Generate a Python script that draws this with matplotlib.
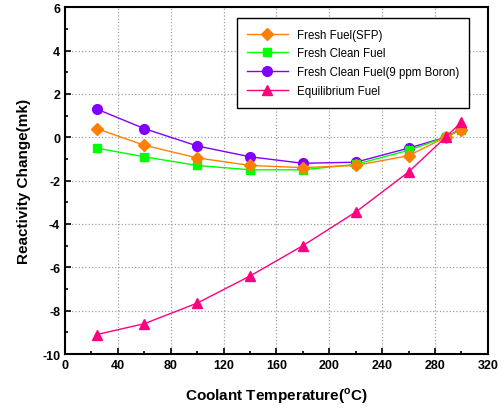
import matplotlib
matplotlib.use("Agg")
import matplotlib.pyplot as plt
from matplotlib.ticker import MultipleLocator

plt.rcParams['font.family'] = ['Liberation Sans', 'DejaVu Sans']
plt.rcParams['axes.unicode_minus'] = False

temp = [24, 60, 100, 140, 180, 220, 260, 288, 300]
sfp = [0.4, -0.37, -0.95, -1.3, -1.4, -1.3, -0.85, 0.0, 0.35]
clean = [-0.5, -0.9, -1.3, -1.5, -1.5, -1.25, -0.6, 0.0, 0.35]
boron = [1.3, 0.4, -0.4, -0.9, -1.2, -1.15, -0.5, 0.0, 0.4]
equil = [-9.1, -8.6, -7.65, -6.4, -5.0, -3.45, -1.6, 0.0, 0.7]

fig = plt.figure(figsize=(5.04, 4.10), dpi=100)
ax = fig.add_axes([0.129, 0.134, 0.839, 0.846])

ax.plot(temp, sfp, color='#FF8000', marker='D', ms=6, lw=1, label='Fresh Fuel(SFP)', zorder=4)
ax.plot(temp, clean, color='#00FF00', marker='s', ms=6, lw=1, label='Fresh Clean Fuel', zorder=3)
ax.plot(temp, boron, color='#8000FF', marker='o', ms=7, lw=1, label='Fresh Clean Fuel(9 ppm Boron)', zorder=2)
ax.plot(temp, equil, color='#FF0080', marker='^', ms=7, lw=1, label='Equilibrium Fuel', zorder=5)

ax.set_xlim(0, 320)
ax.set_ylim(-10, 6)
ax.xaxis.set_major_locator(MultipleLocator(40))
ax.xaxis.set_minor_locator(MultipleLocator(20))
ax.yaxis.set_major_locator(MultipleLocator(2))
ax.yaxis.set_minor_locator(MultipleLocator(1))
ax.tick_params(which='both', direction='in', width=1.2)
ax.tick_params(which='major', length=4, labelsize=9)
ax.tick_params(which='minor', length=2.5)
for lab in ax.get_xticklabels() + ax.get_yticklabels():
    lab.set_fontweight('bold')
for sp in ax.spines.values():
    sp.set_linewidth(1.5)

ax.grid(True, which='major', color='#A0A0A0', linestyle=':', linewidth=0.9)

ax.set_xlabel('Coolant Temperature($^{\\mathregular{o}}$C)', fontsize=11, fontweight='bold', labelpad=10)
ax.set_ylabel('Reactivity Change(mk)', fontsize=11, fontweight='bold', labelpad=8)

leg = ax.legend(loc='upper right', bbox_to_anchor=(0.97, 0.985), fontsize=8.3, fancybox=False,
                edgecolor='black', framealpha=1, borderpad=0.9, labelspacing=0.6, handlelength=3.5)
leg.get_frame().set_linewidth(1.0)

fig.savefig('out.png', dpi=100)
